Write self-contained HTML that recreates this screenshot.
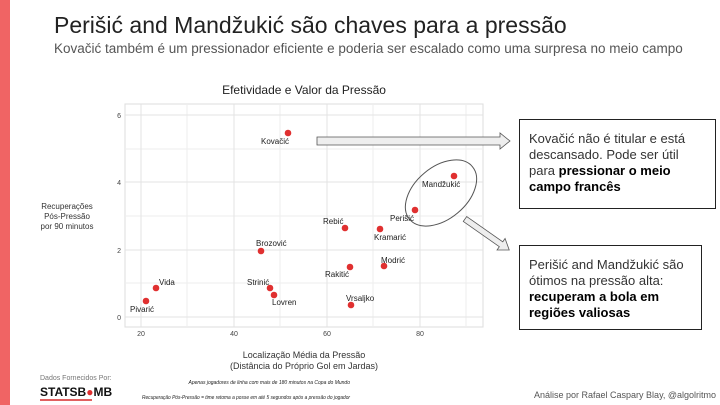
<!DOCTYPE html>
<html><head><meta charset="utf-8"><style>
body{margin:0;width:720px;height:405px;background:#fff;font-family:"Liberation Sans",sans-serif;position:relative;overflow:hidden}
.bar{position:absolute;left:0;top:0;width:10px;height:405px;background:#f06464}
.t{position:absolute;white-space:nowrap}
.box{position:absolute;border:1.3px solid #222;box-sizing:border-box;font-size:13px;line-height:16px;color:#333;padding:11px 4px 0 9px;white-space:nowrap}
.box b{color:#000}
</style></head><body>
<div class="bar"></div>
<div class="t" style="left:54px;top:12px;font-size:23px;color:#222">Perišić and Mandžukić são chaves para a pressão</div>
<div class="t" style="left:54px;top:41px;font-size:13.5px;color:#555">Kovačić também é um pressionador eficiente e poderia ser escalado como uma surpresa no meio campo</div>
<svg style="position:absolute;left:0;top:0" width="720" height="405" font-family="Liberation Sans, sans-serif">
<text x="304" y="94" font-size="12" text-anchor="middle" fill="#222">Efetividade e Valor da Pressão</text>
<rect x="125" y="104" width="358" height="223" fill="#fff" stroke="#ddd"/>
<g stroke="#eee" stroke-width="1">
<line x1="187" y1="104" x2="187" y2="327"/><line x1="280" y1="104" x2="280" y2="327"/><line x1="373" y1="104" x2="373" y2="327"/><line x1="466" y1="104" x2="466" y2="327"/>
<line x1="125" y1="283" x2="483" y2="283"/><line x1="125" y1="216" x2="483" y2="216"/><line x1="125" y1="149" x2="483" y2="149"/>
</g>
<g stroke="#e3e3e3" stroke-width="1">
<line x1="141" y1="104" x2="141" y2="327"/><line x1="234" y1="104" x2="234" y2="327"/><line x1="327" y1="104" x2="327" y2="327"/><line x1="420" y1="104" x2="420" y2="327"/>
<line x1="125" y1="317" x2="483" y2="317"/><line x1="125" y1="250" x2="483" y2="250"/><line x1="125" y1="182" x2="483" y2="182"/><line x1="125" y1="115" x2="483" y2="115"/>
</g>
<g font-size="7" fill="#444" text-anchor="end">
<text x="121" y="320">0</text><text x="121" y="253">2</text><text x="121" y="185">4</text><text x="121" y="118">6</text>
</g>
<g font-size="7" fill="#444" text-anchor="middle">
<text x="141" y="336">20</text><text x="234" y="336">40</text><text x="327" y="336">60</text><text x="420" y="336">80</text>
</g>
<g font-size="8" fill="#333" text-anchor="middle">
<text x="67" y="209">Recuperações</text><text x="67" y="219">Pós-Pressão</text><text x="67" y="229">por 90 minutos</text>
<text x="304" y="358" font-size="9">Localização Média da Pressão</text>
<text x="304" y="369" font-size="9">(Distância do Próprio Gol em Jardas)</text>
</g>
<ellipse cx="441" cy="193" rx="41" ry="26" transform="rotate(-40 441 193)" fill="none" stroke="#555" stroke-width="1"/>
<polygon points="317,137 500,137 500,133 510,141 500,149 500,145 317,145" fill="#eee" stroke="#555" stroke-width="0.8"/>
<g transform="translate(465,219) rotate(35)"><polygon points="0,-3 44,-3 44,-7 54,0 44,7 44,3 0,3" fill="#eee" stroke="#555" stroke-width="0.8"/></g>
<g fill="#e03030">
<circle cx="288" cy="133" r="3.3"/><circle cx="454" cy="176" r="3.3"/><circle cx="415" cy="210" r="3.3"/><circle cx="345" cy="228" r="3.3"/><circle cx="380" cy="229" r="3.3"/><circle cx="261" cy="251" r="3.3"/><circle cx="384" cy="266" r="3.3"/><circle cx="350" cy="267" r="3.3"/><circle cx="156" cy="288" r="3.3"/><circle cx="270" cy="288" r="3.3"/><circle cx="274" cy="295" r="3.3"/><circle cx="146" cy="301" r="3.3"/><circle cx="351" cy="305" r="3.3"/>
</g>
<g font-size="8" fill="#222">
<text x="261" y="144">Kovačić</text><text x="422" y="187">Mandžukić</text><text x="390" y="221">Perišić</text><text x="323" y="224">Rebić</text><text x="374" y="240">Kramarić</text><text x="256" y="246">Brozović</text><text x="381" y="263">Modrić</text><text x="325" y="277">Rakitić</text><text x="159" y="285">Vida</text><text x="247" y="285">Strinić</text><text x="272" y="305">Lovren</text><text x="130" y="312">Pivarić</text><text x="346" y="301">Vrsaljko</text>
</g>
<text x="40" y="380" font-size="7" fill="#777">Dados Fornecidos Por:</text>
<text x="40" y="396" font-size="12" font-weight="bold" fill="#111">STATSB<tspan fill="#e03030">●</tspan>MB</text>
<rect x="40" y="399" width="52" height="2" fill="#e06060"/>
<text x="350" y="384" font-size="5" font-style="italic" fill="#222" text-anchor="end">Apenas jogadores de linha com mais de 180 minutos na Copa do Mundo</text>
<text x="350" y="399" font-size="5" font-style="italic" fill="#222" text-anchor="end" textLength="208" lengthAdjust="spacingAndGlyphs">Recuperação Pós-Pressão = time retoma a posse em até 5 segundos após a pressão do jogador</text>
<text x="534" y="398" font-size="9" fill="#555">Análise por Rafael Caspary Blay, @algolritmo</text>
</svg>
<div class="box" style="left:519px;top:119px;width:197px;height:90px">Kovačić não é titular e está<br>descansado. Pode ser útil<br>para <b>pressionar o meio<br>campo francês</b></div>
<div class="box" style="left:519px;top:245px;width:183px;height:85px">Perišić and Mandžukić são<br>ótimos na pressão alta:<br><b>recuperam a bola em<br>regiões valiosas</b></div>
</body></html>
